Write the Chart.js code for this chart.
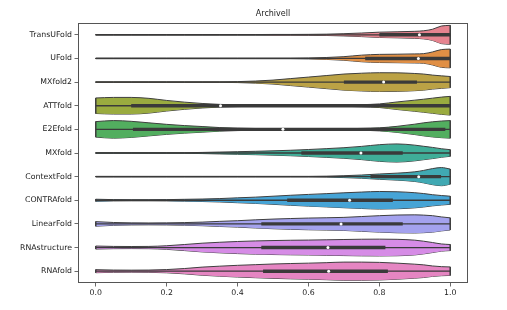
<!DOCTYPE html>
<html>
<head>
<meta charset="utf-8">
<script src="https://cdn.jsdelivr.net/npm/chart.js@4.4.1/dist/chart.umd.min.js"></script>
<style>
  html, body { margin: 0; padding: 0; background: #ffffff; }
  #wrap { width: 507px; height: 310px; position: relative; }
</style>
</head>
<body>
<div id="wrap"><canvas id="violinChart"></canvas></div>
<script>
const categories = ["TransUFold", "UFold", "MXfold2", "ATTfold", "E2Efold", "MXfold",
  "ContextFold", "CONTRAfold", "LinearFold", "RNAstructure", "RNAfold"];

// score positions where the violin outline was read
const xGrid = [0, 0.05, 0.1, 0.15, 0.2, 0.25, 0.3, 0.35, 0.4, 0.45, 0.5, 0.55,
  0.6, 0.65, 0.7, 0.75, 0.8, 0.85, 0.9, 0.925, 0.95, 0.975, 1];

// relative density (1 = widest violin)
const densTransUFold = [.03, .03, .03, .03, .03, .03, .03, .03, .03, .03, .04, .04, .05, .07, .12, .19, .28, .32, .37, .43, .59, .93, 1];
const densUFold = [.03, .03, .03, .03, .03, .03, .03, .03, .03, .03, .03, .03, .05, .10, .19, .35, .43, .45, .48, .51, .69, .94, .99];
const densMXfold2 = [.03, .03, .03, .03, .03, .03, .03, .03, .05, .11, .21, .37, .53, .69, .85, .94, .99, .98, .91, .85, .74, .66, .59];
const densATTfold = [.82, .88, .88, .78, .56, .38, .24, .14, .09, .06, .05, .05, .05, .05, .06, .11, .19, .40, .59, .69, .80, .91, .99];
const densE2Efold = [.82, .93, .85, .69, .53, .40, .30, .19, .13, .09, .06, .05, .05, .05, .06, .10, .16, .32, .55, .69, .80, .88, .93];
const densMXfold = [.03, .03, .03, .03, .03, .03, .06, .10, .14, .18, .23, .29, .37, .46, .56, .70, .88, .96, .83, .71, .59, .45, .35];
const densContextFold = [.03, .03, .03, .03, .03, .03, .03, .03, .03, .03, .03, .03, .03, .05, .10, .17, .28, .37, .51, .66, .85, .96, .80];
const densCONTRAfold = [.11, .07, .06, .06, .07, .10, .13, .18, .26, .33, .43, .53, .62, .70, .79, .87, .93, .90, .80, .71, .59, .50, .43];
const densLinearFold = [.24, .15, .11, .10, .11, .14, .19, .27, .34, .43, .51, .57, .62, .65, .69, .78, .87, .94, .96, .93, .87, .74, .64];
const densRNAstructure = [.16, .12, .11, .12, .19, .32, .46, .56, .64, .70, .74, .77, .79, .82, .85, .88, .89, .87, .78, .67, .53, .38, .32];
const densRNAfold = [.16, .12, .11, .12, .17, .28, .43, .53, .62, .69, .76, .81, .85, .90, .96, .96, .93, .85, .74, .67, .55, .48, .45];

const densities = [densTransUFold, densUFold, densMXfold2, densATTfold, densE2Efold, densMXfold,
  densContextFold, densCONTRAfold, densLinearFold, densRNAstructure, densRNAfold];

// inner box: quartiles, median and whisker ends
const q1Values = [0.80, 0.76, 0.70, 0.10, 0.105, 0.58, 0.775, 0.54, 0.467, 0.467, 0.472];
const medianValues = [0.913, 0.91, 0.812, 0.352, 0.528, 0.748, 0.911, 0.716, 0.692, 0.655, 0.657];
const q3Values = [1.0, 1.0, 0.906, 1.0, 0.986, 0.866, 0.974, 0.838, 0.866, 0.817, 0.824];
const whiskerLow = [0, 0, 0, 0, 0, 0, 0, 0, 0, 0, 0];
const whiskerHigh = [1, 1, 1, 1, 1, 1, 1, 1, 1, 1, 1];

const xTickValues = [0, 0.2, 0.4, 0.6, 0.8, 1.0];

const violinColors = ["#e6838f", "#e08f45", "#bba245", "#9aab3f", "#52ae5f", "#3fae98",
  "#40a9b3", "#46a4d6", "#a4a2ee", "#d68ce6", "#e585c2"];

const edgeColor = "#3f3f3f";
const innerColor = "#3a3a3a";
const maxHalfWidth = 0.4;
const fontFamily = "'DejaVu Sans', sans-serif";

function buildDatasets() {
  const sets = [];
  categories.forEach((name, i) => {
    const dens = densities[i];
    const upper = xGrid.map((x, k) => ({ x, y: i - dens[k] * maxHalfWidth }));
    const lower = xGrid.map((x, k) => ({ x, y: i + dens[k] * maxHalfWidth }));
    const last = xGrid.length - 1;

    sets.push({
      data: upper, order: 4, fill: "+1", backgroundColor: violinColors[i],
      borderColor: edgeColor, borderWidth: 1, pointRadius: 0,
      cubicInterpolationMode: "monotone"
    });
    sets.push({
      data: lower, order: 4, fill: false,
      borderColor: edgeColor, borderWidth: 1, pointRadius: 0,
      cubicInterpolationMode: "monotone"
    });
    // flat ends of the violin
    [0, last].forEach(k => {
      sets.push({
        data: [upper[k], lower[k]], order: 3, fill: false,
        borderColor: edgeColor, borderWidth: 1, pointRadius: 0, tension: 0
      });
    });
    sets.push({
      data: [{ x: whiskerLow[i], y: i }, { x: whiskerHigh[i], y: i }], order: 2, fill: false,
      borderColor: innerColor, borderWidth: 1.3, pointRadius: 0, tension: 0
    });
    sets.push({
      data: [{ x: q1Values[i], y: i }, { x: q3Values[i], y: i }], order: 1, fill: false,
      borderColor: innerColor, borderWidth: 3.4, borderCapStyle: "butt", pointRadius: 0, tension: 0
    });
    sets.push({
      data: [{ x: medianValues[i], y: i }], order: 0, showLine: false,
      pointRadius: 1.5, pointBackgroundColor: "#ffffff", pointBorderWidth: 0
    });
  });
  return sets;
}

const framePlugin = {
  id: "frame",
  afterDatasetsDraw(chart) {
    const { ctx, chartArea } = chart;
    ctx.save();
    ctx.strokeStyle = "#555555";
    ctx.lineWidth = 1;
    ctx.strokeRect(chartArea.left + 0.5, chartArea.top + 0.5,
      chartArea.right - chartArea.left - 1, chartArea.bottom - chartArea.top - 1);
    ctx.restore();
  }
};

new Chart(document.getElementById("violinChart").getContext("2d"), {
  type: "line",
  data: { datasets: buildDatasets() },
  plugins: [framePlugin],
  options: {
    responsive: true,
    maintainAspectRatio: false,
    animation: false,
    events: [],
    layout: { padding: { left: 0, right: 39, top: 0, bottom: 0 } },
    plugins: {
      legend: { display: false },
      tooltip: { enabled: false },
      title: {
        display: true,
        text: "Archivell",
        fullSize: false,
        color: "#222222",
        font: { family: fontFamily, size: 8, weight: "normal", lineHeight: 1.2 },
        padding: { top: 9.2, bottom: 4.2 }
      }
    },
    scales: {
      x: {
        type: "linear",
        min: -0.05,
        max: 1.05,
        afterBuildTicks: scale => { scale.ticks = xTickValues.map(value => ({ value })); },
        afterFit: scale => { scale.height = 27; },
        border: { display: false },
        grid: { drawOnChartArea: false, drawTicks: true, tickLength: 3.5, color: "#444444", lineWidth: 0.8 },
        ticks: {
          color: "#222222",
          padding: 1.5,
          maxRotation: 0,
          font: { family: fontFamily, size: 7.8 },
          callback: value => Number(value).toFixed(1)
        }
      },
      y: {
        type: "linear",
        reverse: true,
        min: -0.5,
        max: categories.length - 0.5,
        afterBuildTicks: scale => { scale.ticks = categories.map((c, i) => ({ value: i })); },
        afterFit: scale => { scale.width = 78; },
        border: { display: false },
        grid: { drawOnChartArea: false, drawTicks: true, tickLength: 3.5, color: "#444444", lineWidth: 0.8 },
        ticks: {
          color: "#222222",
          padding: 2.5,
          font: { family: fontFamily, size: 7.8 },
          callback: value => categories[value] ?? ""
        }
      }
    }
  }
});
</script>
</body>
</html>
